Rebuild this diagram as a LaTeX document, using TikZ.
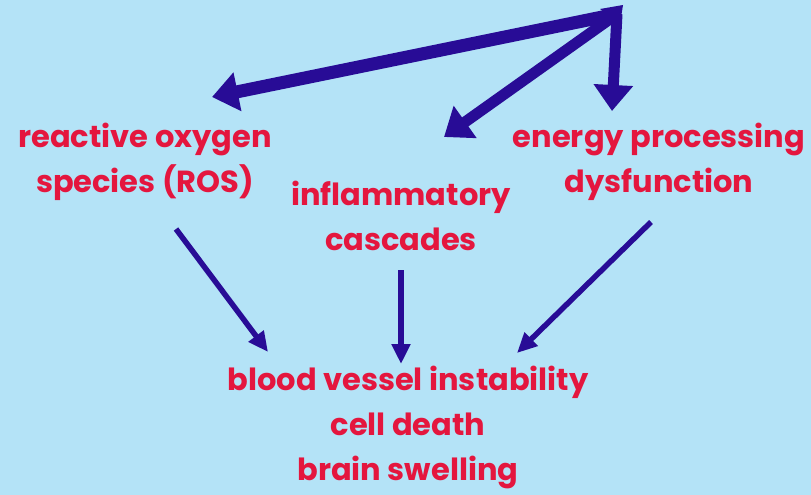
\documentclass[tikz,border=0pt]{standalone}
\usepackage{fontspec}
\setmainfont{Poppins}
\usetikzlibrary{arrows.meta}
\definecolor{bg}{RGB}{180,227,247}
\definecolor{txt}{RGB}{228,22,62}
\definecolor{arr}{RGB}{40,12,150}
\begin{document}
\begin{tikzpicture}[x=1pt,y=-1pt,
  lbl/.style={text=txt,align=center,inner sep=0pt,font=\fontsize{30.5}{45}\selectfont\bfseries},
  bigarrow/.style={draw=arr,line width=13pt,miter limit=20,-{Triangle[width=38pt,length=26pt]}},
  smallarrow/.style={draw=arr,line width=5.5pt,-{Triangle[width=18pt,length=20pt]}}]
\fill[bg] (0,0) rectangle (811,495);
\useasboundingbox (0,0) rectangle (811,495);
% text nodes
\node[lbl] (ros) at (145,162) {reactive oxygen\\species (ROS)};
\node[lbl] (infl) at (401,216) {inflammatory\\cascades};
\node[lbl] (energy) at (659,162) {energy processing\\dysfunction};
\node[lbl] (out) at (408,427) {blood vessel instability\\cell death\\brain swelling};
% top arrows
\coordinate (apex) at (617,14);
\coordinate (tRos) at (212,97);
\coordinate (tInfl) at (444,137);
\coordinate (tEn) at (612,111);
\draw[bigarrow] (apex) -- (tRos);
\draw[bigarrow,line width=11pt] (apex) -- (tInfl);
\draw[bigarrow,line width=11pt] (apex) -- (tEn);
\fill[arr] (600,9) -- (623,5) -- (620,24) -- cycle;
% lower arrows
\coordinate (sRos) at (176,229);
\coordinate (eRos) at (268,352);
\coordinate (sInfl) at (401,270);
\coordinate (eInfl) at (401,364);
\coordinate (sEn) at (651,222);
\coordinate (eEn) at (517,353);
\draw[smallarrow] (sRos) -- (eRos);
\draw[smallarrow] (sInfl) -- (eInfl);
\draw[smallarrow] (sEn) -- (eEn);
\end{tikzpicture}
\end{document}
